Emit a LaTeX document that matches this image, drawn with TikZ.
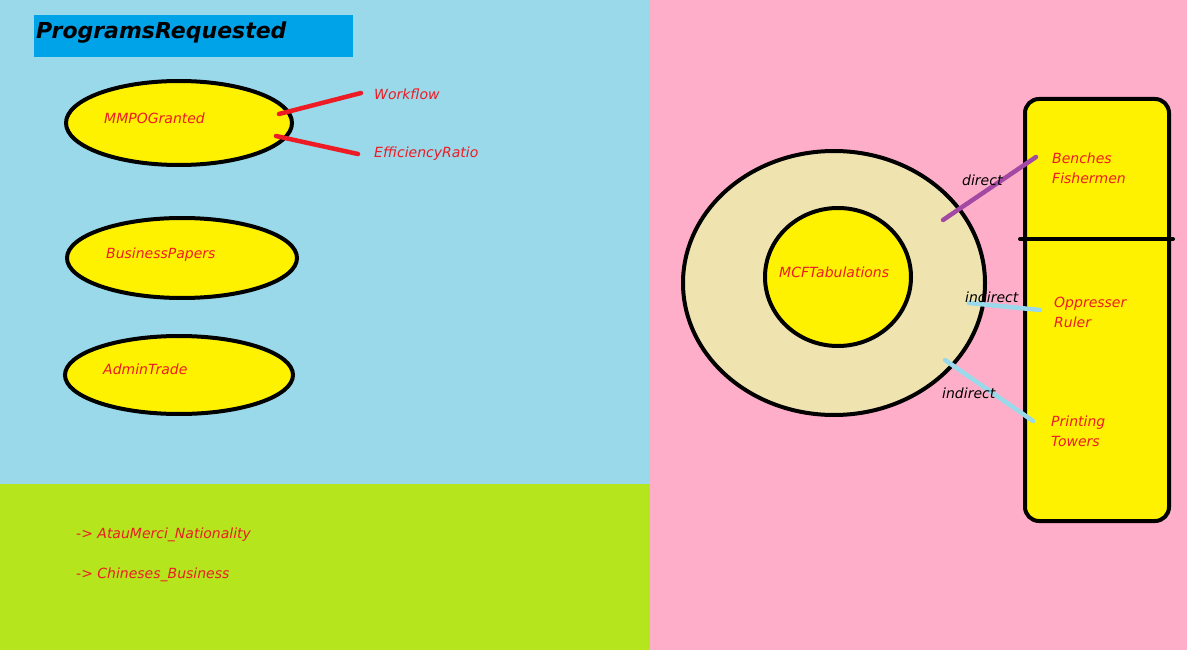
\documentclass[tikz,border=0pt]{standalone}
\usepackage{fontspec}
\setmainfont{DejaVu Sans}
\usetikzlibrary{shapes.geometric}
\definecolor{skyb}{HTML}{99D9EA}
\definecolor{lime}{HTML}{B5E61D}
\definecolor{pinkb}{HTML}{FFAEC9}
\definecolor{titleb}{HTML}{00A2E8}
\definecolor{yel}{HTML}{FFF200}
\definecolor{redt}{HTML}{ED1C24}
\definecolor{tan}{HTML}{EFE4B0}
\definecolor{purp}{HTML}{A349A4}
\tikzset{
  oval/.style={ellipse, draw=black, line width=4pt, fill=yel, inner sep=0pt},
  lbl/.style={text=redt, font=\fontsize{14}{20}\selectfont\itshape, anchor=west, inner sep=0pt, align=left},
  conn/.style={line width=4.5pt, line cap=round},
  tag/.style={text=black, font=\fontsize{14}{16}\selectfont\itshape, anchor=west, inner sep=0pt}
}
\begin{document}
\begin{tikzpicture}[x=1pt,y=-1pt]
\useasboundingbox (0,0) rectangle (1187,650);
% backgrounds
\fill[skyb] (0,0) rectangle (650,484);
\fill[lime] (0,484) rectangle (650,650);
\fill[pinkb] (650,0) rectangle (1187,650);
% title
\fill[titleb] (34,15) rectangle (353,57);
\node[anchor=west, inner sep=0pt, font=\fontsize{22}{24}\selectfont\bfseries\itshape] (title) at (36,33) {ProgramsRequested};
% ellipses
\node[oval, minimum width=226pt, minimum height=84pt] (e1) at (179,123) {};
\node[oval, minimum width=230pt, minimum height=80pt] (e2) at (182,258) {};
\node[oval, minimum width=228pt, minimum height=78pt] (e3) at (179,375) {};
\node[lbl] (t1) at (104,118) {MMPOGranted};
\node[lbl] (t2) at (106,255) {BusinessPapers};
\node[lbl] (t3) at (103,369) {AdminTrade};
% red connectors
\coordinate (a1) at (279,114);
\coordinate (a2) at (361,93);
\coordinate (b1) at (276,136);
\coordinate (b2) at (358,154);
\draw[conn, redt] (a1) -- (a2);
\draw[conn, redt] (b1) -- (b2);
\node[lbl] (wf) at (374,94) {Workflow};
\node[lbl] (er) at (374,154) {EfficiencyRatio};
% green texts
\node[lbl] (g1) at (76,535) {-> AtauMerci\_Nationality};
\node[lbl] (g2) at (76,575) {-> Chineses\_Business};
% circles
\node[ellipse, draw=black, line width=4pt, fill=tan, minimum width=302pt, minimum height=264pt, inner sep=0pt] (outer) at (834,283) {};
\node[ellipse, draw=black, line width=4pt, fill=yel, minimum width=146pt, minimum height=138pt, inner sep=0pt] (inner) at (838,277) {};
\node[lbl] (mcf) at (779,272) {MCFTabulations};
% right box
\draw[line width=4pt, fill=yel, rounded corners=14pt] (1025,99) rectangle (1169,521);
\coordinate (dl) at (1020,239);
\coordinate (dr) at (1173,239);
\draw[line width=4pt, line cap=round] (dl) -- (dr);
\node[lbl] (bf) at (1052,168) {Benches\\Fishermen};
\node[lbl] (or) at (1054,312) {Oppresser\\Ruler};
\node[lbl] (pt) at (1051,431) {Printing\\Towers};
% relations
\coordinate (p1) at (943,220);
\coordinate (p2) at (1036,157);
\coordinate (q1) at (969,303);
\coordinate (q2) at (1040,310);
\coordinate (r1) at (945,360);
\coordinate (r2) at (1033,421);
\draw[conn, purp] (p1) -- (p2);
\draw[conn, skyb] (q1) -- (q2);
\draw[conn, skyb] (r1) -- (r2);
\node[tag] (d1) at (962,180) {direct};
\node[tag] (d2) at (965,297) {indirect};
\node[tag] (d3) at (942,393) {indirect};
\end{tikzpicture}
\end{document}
